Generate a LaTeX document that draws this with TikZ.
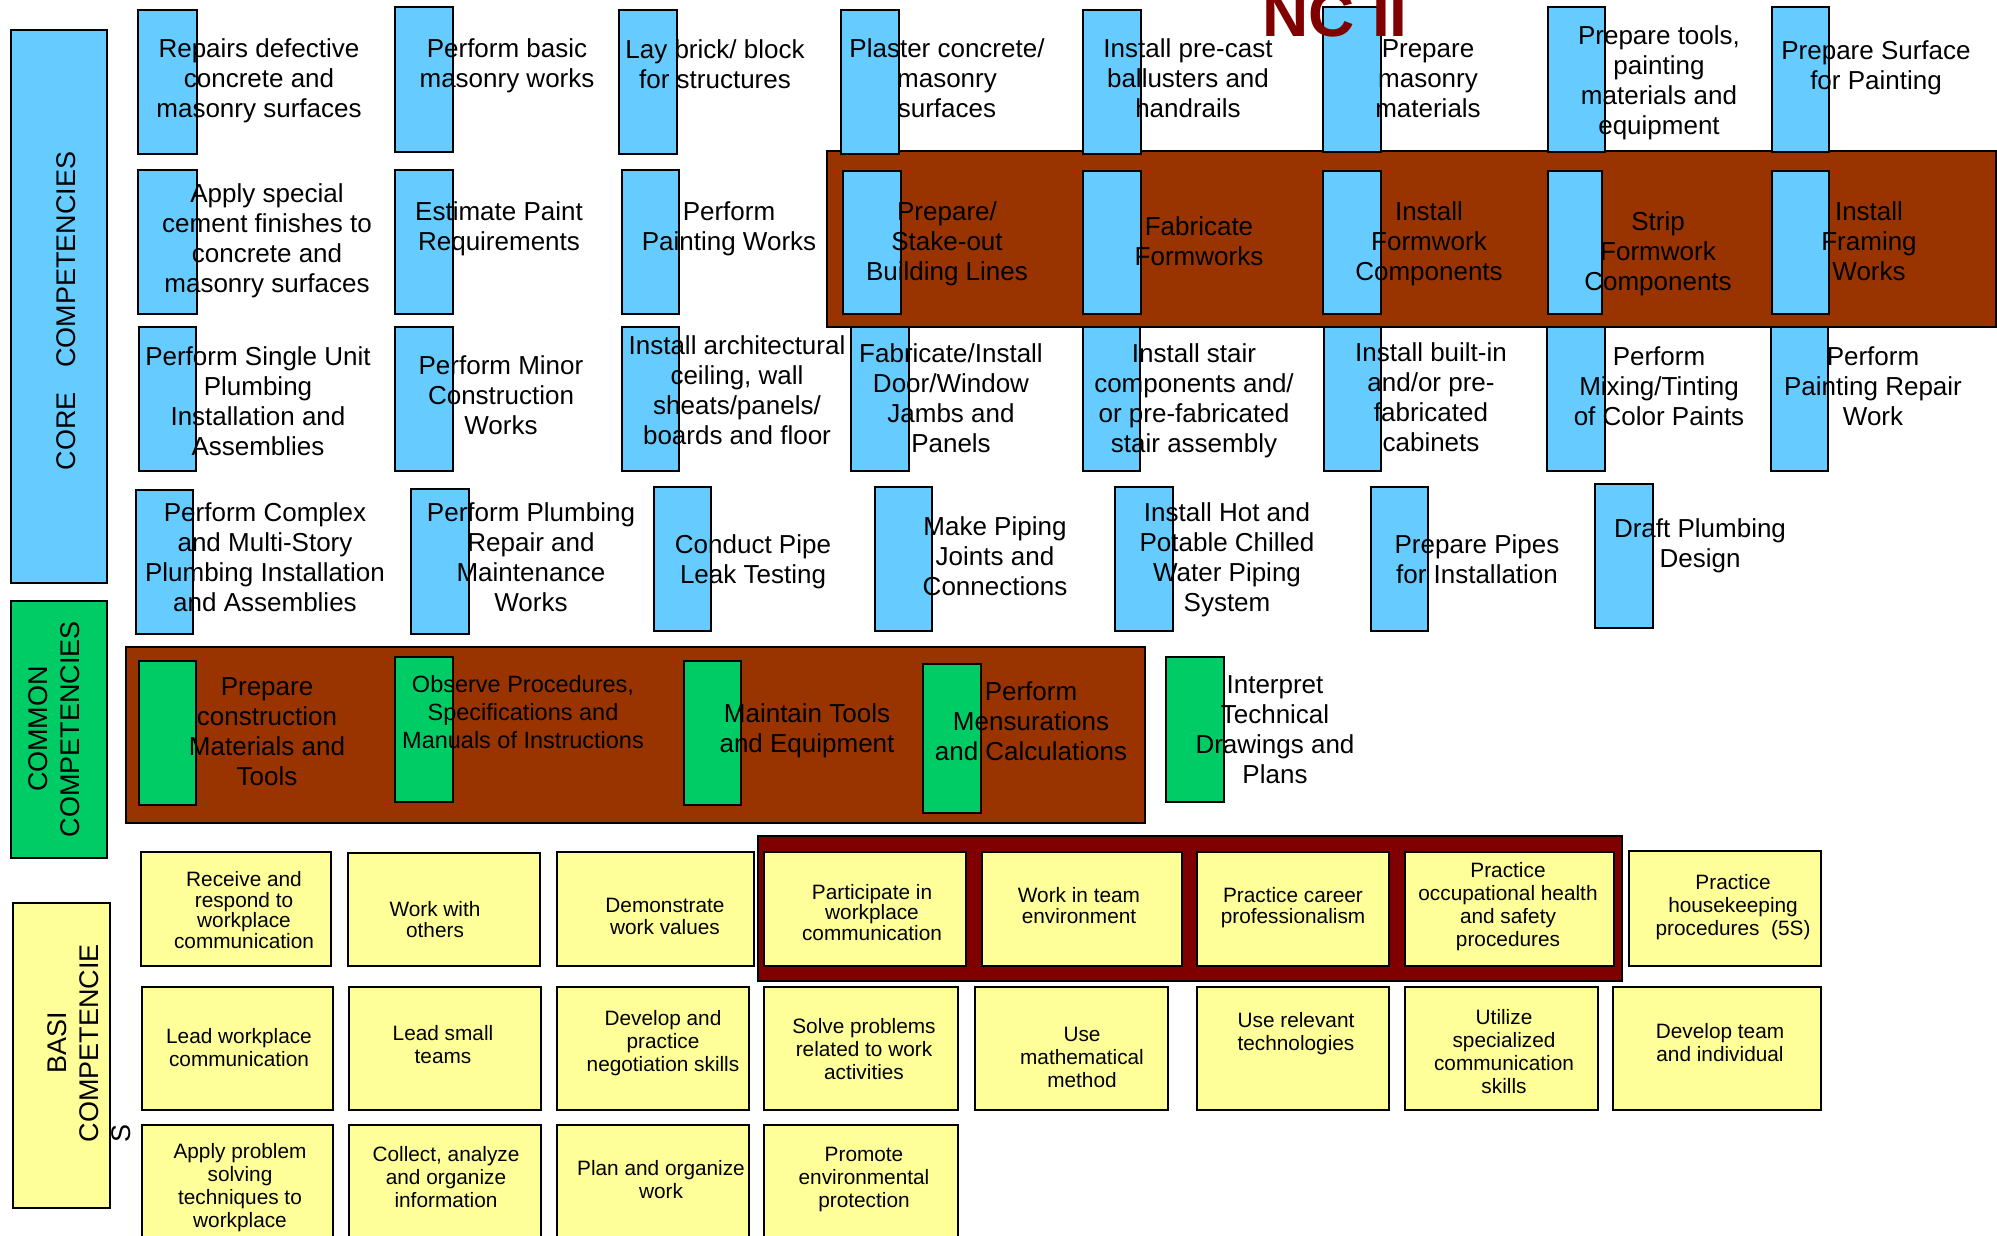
\documentclass[tikz,border=0pt]{standalone}
\usepackage{fontspec}
\setmainfont{Liberation Sans}
\definecolor{barblue}{HTML}{66CCFF}
\definecolor{bargreen}{HTML}{00CC66}
\definecolor{boxyellow}{HTML}{FFFF99}
\definecolor{bandbrown}{HTML}{993300}
\definecolor{bandred}{HTML}{800000}
\newcommand\corefont{\fontsize{26}{30}\selectfont}
\newcommand\obsfont{\fontsize{23.5}{28}\selectfont}
\newcommand\basicfont{\fontsize{20.8}{23}\selectfont}
\newcommand\tightfont{\fontsize{20.8}{20.5}\selectfont}
\newcommand\labfont{\fontsize{27}{32}\selectfont}
\begin{document}
\begin{tikzpicture}[x=1pt, y=-1pt,
  every node/.style={inner sep=0pt, outer sep=0pt},
  bar/.style={draw, line width=2pt, anchor=north west,
    minimum width=58, minimum height=144},
  corebar/.style={bar, fill=barblue},
  combar/.style={bar, fill=bargreen},
  ybox/.style={draw, line width=2pt, fill=boxyellow, anchor=north west},
  band/.style={draw, line width=2pt, anchor=north west},
  ctext/.style={align=center, anchor=base, font=\corefont},
  btext/.style={align=center, anchor=base, font=\basicfont},
  vlabel/.style={align=center, rotate=90, font=\labfont}
  ]
  \path[use as bounding box, fill=white] (0,0) rectangle (1997,1236);

  \node[band, fill=bandbrown, minimum width=1169, minimum height=176] (coreband) at (827,151) {};
  \node[band, fill=bandbrown, minimum width=1019, minimum height=176] (comband) at (126,647) {};
  \node[band, fill=bandred, minimum width=864, minimum height=145] (basband) at (758,836) {};

  \node[corebar, minimum height=553, minimum width=96] (corelab) at (11,30) {};
  \node[combar, minimum height=257, minimum width=96] (comlab) at (11,601) {};
  \node[ybox, minimum height=305, minimum width=97] (baslab) at (13,903) {};
  \node[vlabel] at (66,311) {CORE\hspace{0.9em}COMPETENCIES};
  \node[vlabel] at (54.5,729) {COMMON\\COMPETENCIES};
  \node[rotate=90, font=\labfont] at (92,1043)
    {\begin{tabular}{@{}l@{}}\multicolumn{1}{@{}c@{}}{BASI}\\COMPETENCIE\\S\end{tabular}};

  \node[corebar, minimum width=59] (cb11) at (138,10) {};
  \node[corebar, minimum height=145] (cb12) at (395,7) {};
  \node[corebar] (cb13) at (619,10) {};
  \node[corebar] (cb14) at (841,10) {};
  \node[corebar] (cb15) at (1083,10) {};
  \node[corebar, minimum height=145] (cb16) at (1323,7) {};
  \node[corebar, minimum height=145, minimum width=57] (cb17) at (1548,7) {};
  \node[corebar, minimum height=145, minimum width=57] (cb18) at (1772,7) {};

  \node[corebar, minimum width=59] (cb21) at (138,170) {};
  \node[corebar] (cb22) at (395,170) {};
  \node[corebar, minimum width=57] (cb23) at (622,170) {};
  \node[corebar, minimum height=143] (cb24) at (843,171) {};
  \node[corebar, minimum height=143] (cb25) at (1083,171) {};
  \node[corebar, minimum height=143] (cb26) at (1323,171) {};
  \node[corebar, minimum height=143, minimum width=54] (cb27) at (1548,171) {};
  \node[corebar, minimum height=143, minimum width=57] (cb28) at (1772,171) {};

  \node[corebar, minimum width=57] (cb31) at (139,327) {};
  \node[corebar] (cb32) at (395,327) {};
  \node[corebar, minimum width=57] (cb33) at (622,327) {};
  \node[corebar] (cb34) at (851,327) {};
  \node[corebar, minimum width=57] (cb35) at (1083,327) {};
  \node[corebar, minimum width=57] (cb36) at (1324,327) {};
  \node[corebar] (cb37) at (1547,327) {};
  \node[corebar, minimum width=57] (cb38) at (1771,327) {};

  \node[corebar, minimum width=57] (cb41) at (136,490) {};
  \node[corebar, minimum height=145] (cb42) at (411,489) {};
  \node[corebar, minimum width=57] (cb43) at (654,487) {};
  \node[corebar, minimum width=57] (cb44) at (875,487) {};
  \node[corebar] (cb45) at (1115,487) {};
  \node[corebar, minimum width=57] (cb46) at (1371,487) {};
  \node[corebar] (cb47) at (1595,484) {};

  \node[ctext] (ct11) at (259,118) {Repairs defective\\concrete and\\masonry surfaces};
  \node[ctext] (ct12) at (507,88) {Perform basic\\masonry works};
  \node[ctext] (ct13) at (715,89) {Lay brick/ block\\for structures};
  \node[ctext] (ct14) at (947,118) {Plaster concrete/\\masonry\\surfaces};
  \node[ctext] (ct15) at (1188,118) {Install pre-cast\\ballusters and\\handrails};
  \node[ctext] (ct16) at (1428,118) {Prepare\\masonry\\materials};
  \node[ctext] (ct17) at (1659,135) {Prepare tools,\\painting\\materials and\\equipment};
  \node[ctext] (ct18) at (1876,90) {Prepare Surface\\for Painting};

  \node[ctext] (ct21) at (267,292) {Apply special\\cement finishes to\\concrete and\\masonry surfaces};
  \node[ctext] (ct22) at (499,250) {Estimate Paint\\Requirements};
  \node[ctext] (ct23) at (729,250) {Perform\\Painting Works};
  \node[ctext] (ct24) at (947,280) {Prepare/\\Stake-out\\Building Lines};
  \node[ctext] (ct25) at (1199,265) {Fabricate\\Formworks};
  \node[ctext] (ct26) at (1429,280) {Install\\Formwork\\Components};
  \node[ctext] (ct27) at (1658,290) {Strip\\Formwork\\Components};
  \node[ctext] (ct28) at (1869,280) {Install\\Framing\\Works};

  \node[ctext] (ct31) at (258,455) {Perform Single Unit\\Plumbing\\Installation and\\Assemblies};
  \node[ctext] (ct32) at (501,434) {Perform Minor\\Construction\\Works};
  \node[ctext] (ct33) at (737,444) {Install architectural\\ceiling, wall\\sheats/panels/\\boards and floor};
  \node[ctext] (ct34) at (951,452) {Fabricate/Install\\Door/Window\\Jambs and\\Panels};
  \node[ctext] (ct35) at (1194,452) {Install stair\\components and/\\or pre-fabricated\\stair assembly};
  \node[ctext] (ct36) at (1431,451) {Install built-in\\and/or pre-\\fabricated\\cabinets};
  \node[ctext] (ct37) at (1659,425) {Perform\\Mixing/Tinting\\of Color Paints};
  \node[ctext] (ct38) at (1873,425) {Perform\\Painting Repair\\Work};

  \node[ctext] (ct41) at (265,611) {Perform Complex\\and Multi-Story\\Plumbing Installation\\and Assemblies};
  \node[ctext] (ct42) at (531,611) {Perform Plumbing\\Repair and\\Maintenance\\Works};
  \node[ctext] (ct43) at (753,583) {Conduct Pipe\\Leak Testing};
  \node[ctext] (ct44) at (995,595) {Make Piping\\Joints and\\Connections};
  \node[ctext] (ct45) at (1227,611) {Install Hot and\\Potable Chilled\\Water Piping\\System};
  \node[ctext] (ct46) at (1477,583) {Prepare Pipes\\for Installation};
  \node[ctext] (ct47) at (1700,567) {Draft Plumbing\\Design};

  \node[combar, minimum width=57] (gb1) at (139,661) {};
  \node[combar, minimum height=145] (gb2) at (395,657) {};
  \node[combar, minimum width=57] (gb3) at (684,661) {};
  \node[combar, minimum height=149] (gb4) at (923,664) {};
  \node[combar, minimum height=145] (gb5) at (1166,657) {};
  \node[ctext] (gt1) at (267,785) {Prepare\\construction\\Materials and\\Tools};
  \node[ctext, font=\obsfont] (gt2) at (523,748) {Observe Procedures,\\Specifications and\\Manuals of Instructions};
  \node[ctext] (gt3) at (807,752) {Maintain Tools\\and Equipment};
  \node[ctext] (gt4) at (1031,760) {Perform\\Mensurations\\and Calculations};
  \node[ctext] (gt5) at (1275,783) {Interpret\\Technical\\Drawings and\\Plans};

  \node[ybox, minimum width=190, minimum height=114] (yb11) at (141,852) {};
  \node[ybox, minimum width=192, minimum height=113] (yb12) at (348,853) {};
  \node[ybox, minimum width=197, minimum height=114] (yb13) at (557,852) {};
  \node[ybox, minimum width=202, minimum height=114] (yb14) at (764,852) {};
  \node[ybox, minimum width=200, minimum height=114] (yb15) at (982,852) {};
  \node[ybox, minimum width=192, minimum height=114] (yb16) at (1197,852) {};
  \node[ybox, minimum width=209, minimum height=114] (yb17) at (1405,852) {};
  \node[ybox, minimum width=192, minimum height=115] (yb18) at (1629,851) {};

  \node[ybox, minimum width=191, minimum height=123] (yb21) at (142,987) {};
  \node[ybox, minimum width=192, minimum height=123] (yb22) at (349,987) {};
  \node[ybox, minimum width=192, minimum height=123] (yb23) at (557,987) {};
  \node[ybox, minimum width=194, minimum height=123] (yb24) at (764,987) {};
  \node[ybox, minimum width=193, minimum height=123] (yb25) at (975,987) {};
  \node[ybox, minimum width=192, minimum height=123] (yb26) at (1197,987) {};
  \node[ybox, minimum width=193, minimum height=123] (yb27) at (1405,987) {};
  \node[ybox, minimum width=208, minimum height=123] (yb28) at (1613,987) {};

  \node[ybox, minimum width=191, minimum height=140] (yb31) at (142,1125) {};
  \node[ybox, minimum width=192, minimum height=140] (yb32) at (349,1125) {};
  \node[ybox, minimum width=192, minimum height=140] (yb33) at (557,1125) {};
  \node[ybox, minimum width=194, minimum height=140] (yb34) at (764,1125) {};

  \node[btext, font=\tightfont] (yt11) at (244,948) {Receive and\\respond to\\workplace\\communication};
  \node[btext, font=\tightfont] (yt12) at (435,937) {Work with\\others};
  \node[btext, font=\fontsize{20.8}{22}\selectfont] (yt13) at (665,934) {Demonstrate\\work values};
  \node[btext, font=\tightfont] (yt14) at (872,940) {Participate in\\workplace\\communication};
  \node[btext, font=\fontsize{20.8}{21}\selectfont] (yt15) at (1079,923) {Work in team\\environment};
  \node[btext, font=\fontsize{20.8}{21}\selectfont] (yt16) at (1293,923) {Practice career\\professionalism};
  \node[btext] (yt17) at (1508,946) {Practice\\occupational health\\and safety\\procedures};
  \node[btext] (yt18) at (1733,935) {Practice\\housekeeping\\procedures\ \ (5S)};

  \node[btext] (yt21) at (239,1066) {Lead workplace\\communication};
  \node[btext] (yt22) at (443,1063) {Lead small\\teams};
  \node[btext] (yt23) at (663,1071) {Develop and\\practice\\negotiation skills};
  \node[btext] (yt24) at (864,1079) {Solve problems\\related to work\\activities};
  \node[btext] (yt25) at (1082,1087) {Use\\mathematical\\method};
  \node[btext] (yt26) at (1296,1050) {Use relevant\\technologies};
  \node[btext] (yt27) at (1504,1093) {Utilize\\specialized\\communication\\skills};
  \node[btext] (yt28) at (1720,1061) {Develop team\\and individual};

  \node[btext] (yt31) at (240,1227) {Apply problem\\solving\\techniques to\\workplace};
  \node[btext] (yt32) at (446,1207) {Collect, analyze\\and organize\\information};
  \node[btext] (yt33) at (661,1198) {Plan and organize\\work};
  \node[btext] (yt34) at (864,1207) {Promote\\environmental\\protection};

  \node[anchor=base west, font=\fontsize{64}{70}\selectfont\bfseries, text=bandred] (nctitle) at (1262,37) {NC II};
\end{tikzpicture}
\end{document}
